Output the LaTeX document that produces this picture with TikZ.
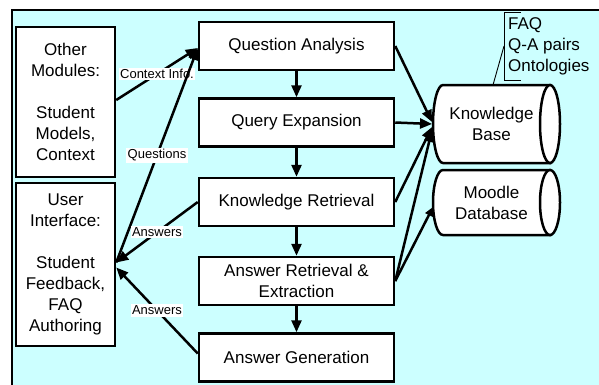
\documentclass[tikz,border=0pt]{standalone}
\usepackage{fontspec}
\setmainfont{Liberation Sans}
\usetikzlibrary{arrows.meta}
\definecolor{bgcyan}{HTML}{CCFFFF}
\begin{document}
\begin{tikzpicture}[x=1pt,y=-1pt,
  bx/.style={draw, line width=2.5pt, fill=white, align=center, font=\fontsize{17}{21}\selectfont, inner sep=0pt},
  modbox/.style={bx, minimum width=99pt},
  stagebox/.style={bx, minimum width=195pt, minimum height=48pt},
  arr/.style={line width=2.5pt, -{Triangle[length=12pt,width=10pt]}},
  lbl/.style={fill=white, font=\fontsize{13}{15}\selectfont, inner sep=1.5pt},
  cyl/.style={draw, line width=2.5pt, fill=white},
  thin/.style={draw, line width=0.9pt},
]
\useasboundingbox (0,0) rectangle (599,384);
\clip (0,0) rectangle (599,384);
\draw[line width=2pt, fill=bgcyan] (12,10) rectangle (640,420);

% left modules
\node[modbox, minimum height=150pt] (om) at (65.5,102) {Other\\Modules:\\[21pt]Student\\Models,\\Context};
\node[modbox, minimum height=163pt] (ui) at (65.5,264.5) {User\\Interface:\\[21pt]Student\\Feedback,\\FAQ\\Authoring};

% pipeline
\node[stagebox] (qa) at (296.5,46) {Question Analysis};
\node[stagebox] (qe) at (296.5,122.5) {Query Expansion};
\node[stagebox] (kr) at (296.5,202) {Knowledge Retrieval};
\node[stagebox] (aret) at (296.5,281) {Answer Retrieval \&\\Extraction};
\node[stagebox] (ag) at (296.5,357.5) {Answer Generation};

% cylinders
\node[minimum width=127pt, minimum height=78pt, align=center, font=\fontsize{17}{21}\selectfont, inner sep=0pt] (kb) at (491.5,124) {Knowledge\\Base};
\node[minimum width=127pt, minimum height=65pt, align=center, font=\fontsize{17}{21}\selectfont, inner sep=0pt] (md) at (491.5,202.5) {Moodle\\Database};
\begin{scope}[on background layer/.try]
\end{scope}
\path[cyl] (550,85) -- (443,85) arc[start angle=90, end angle=270, x radius=10pt, y radius=39pt] -- (550,163) -- cycle;
\draw[cyl] (550,124) ellipse [x radius=10pt, y radius=39pt];
\path[cyl] (550,170) -- (443,170) arc[start angle=90, end angle=270, x radius=10pt, y radius=32.5pt] -- (550,235) -- cycle;
\draw[cyl] (550,202.5) ellipse [x radius=10pt, y radius=32.5pt];
\node[align=center, font=\fontsize{17}{21}\selectfont, inner sep=0pt] (kbt) at (491.5,124) {Knowledge\\Base};
\node[align=center, font=\fontsize{17}{21}\selectfont, inner sep=0pt] (mdt) at (491.5,202.5) {Moodle\\Database};

% callout
\coordinate (cb1) at (521,12);
\coordinate (cb2) at (504,12);
\coordinate (cb3) at (504,80);
\coordinate (cb4) at (521,80);
\coordinate (cbm) at (504,46);
\coordinate (kbtop) at (493,85);
\draw[thin] (cb1) -- (cb2) -- (cb3) -- (cb4);
\draw[thin] (cbm) -- (kbtop);
\node[anchor=west, align=left, font=\fontsize{17}{21}\selectfont, inner sep=0pt] (faq) at (508,46) {FAQ\\Q-A pairs\\Ontologies};

% vertical arrows
\draw[arr] (qa) -- (qe);
\draw[arr] (qe) -- (kr);
\draw[arr] (kr) -- (aret);
\draw[arr] (aret) -- (ag);

% knowledge base arrows
\coordinate (kb1) at (432,122);
\coordinate (kb2) at (432,124);
\coordinate (kb3) at (432,127);
\coordinate (kb4) at (432,130);
\coordinate (md1) at (433,207);
\draw[arr] (qa.east) -- (kb1);
\draw[arr] (qe.east) -- (kb2);
\draw[arr] (kr.east) -- (kb3);
\draw[arr] (aret.east) -- (kb4);
\draw[arr, -{Triangle[length=9pt,width=8pt]}] (aret.east) -- (md1);

% left arrows
\coordinate (omout) at ([yshift=2pt]om.east);
\coordinate (qain) at ([yshift=-2pt]qa.west);
\coordinate (uiq) at ([yshift=2pt]ui.east);
\coordinate (uia1) at ([yshift=2pt]ui.east);
\coordinate (uia2) at ([yshift=-3pt]ui.east);
\coordinate (agout) at ([yshift=4pt]ag.west);
\draw[arr] (omout) -- node[lbl] (lctx) {Context Info.} (qain);
\draw[arr] (uiq) -- node[lbl] (lq) {Questions} (qain);
\draw[arr] (kr.west) -- node[lbl] (la1) {Answers} (uia1);
\draw[arr] (agout) -- node[lbl] (la2) {Answers} (uia2);
\end{tikzpicture}
\end{document}
